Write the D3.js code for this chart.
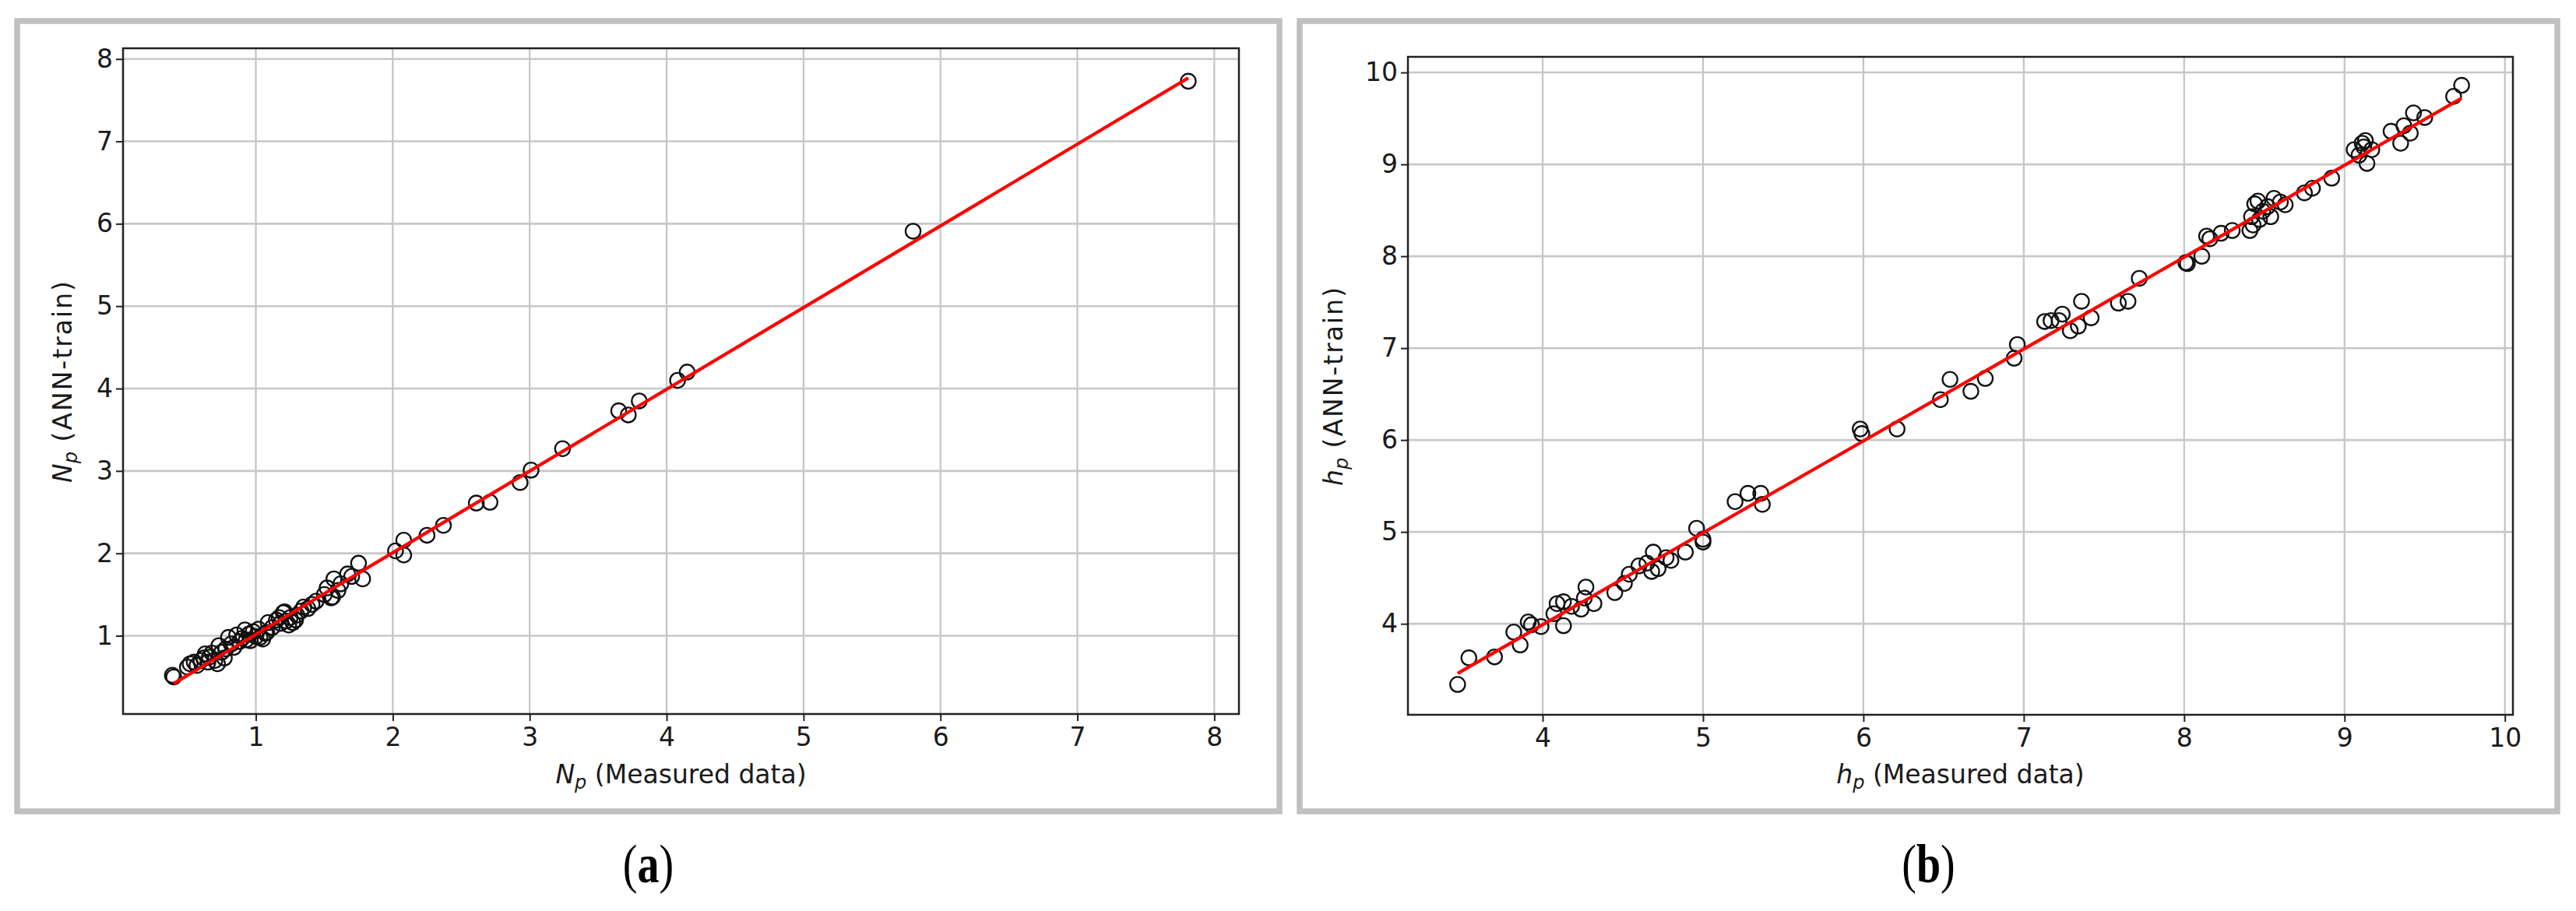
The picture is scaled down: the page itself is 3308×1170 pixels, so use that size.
<!DOCTYPE html>
<html>
<head>
<meta charset="utf-8">
<script src="https://cdn.jsdelivr.net/npm/d3@7"></script>
<style>
  html, body { margin: 0; padding: 0; background: #fff; }
  svg { display: block; }
  text { fill: #1a1a1a; }
</style>
</head>
<body>
<svg id="chart" width="3308" height="1170"></svg>
<script>
// ---------------- DATA ----------------
// Panel (a): Np measured vs ANN-train
const npMeasured = [
  0.39, 0.40, 0.50, 0.52, 0.55, 0.57, 0.60, 0.62, 0.63, 0.65, 0.66, 0.68, 0.70, 0.72,
  0.73, 0.75, 0.77, 0.78, 0.80, 0.82, 0.84, 0.86, 0.88, 0.90, 0.92, 0.93, 0.95, 0.96,
  0.98, 1.00, 1.02, 1.03, 1.05, 1.07, 1.08, 1.09, 1.12, 1.15, 1.17, 1.18, 1.20, 1.21,
  1.22, 1.24, 1.25, 1.27, 1.29, 1.30, 1.33, 1.35, 1.38, 1.41, 1.44, 1.50, 1.52, 1.55,
  1.56, 1.57, 1.60, 1.62, 1.67, 1.70, 1.75, 1.78, 2.02, 2.08, 2.08, 2.25, 2.37, 2.61,
  2.71, 2.93, 3.01, 3.24, 3.65, 3.72, 3.80, 4.08, 4.15, 5.80, 7.81
];
const npAnnTrain = [
  0.52, 0.50, 0.62, 0.66, 0.68, 0.64, 0.70, 0.73, 0.78, 0.68, 0.74, 0.79, 0.70, 0.66,
  0.88, 0.80, 0.73, 0.84, 0.98, 0.90, 0.86, 1.01, 0.93, 0.97, 1.07, 0.95, 1.02, 0.94,
  1.05, 0.99, 1.08, 0.98, 0.96, 1.03, 1.04, 1.16, 1.10, 1.19, 1.22, 1.15, 1.28, 1.29,
  1.18, 1.13, 1.22, 1.16, 1.19, 1.25, 1.30, 1.35, 1.33, 1.38, 1.42, 1.50, 1.58, 1.46,
  1.47, 1.69, 1.55, 1.63, 1.75, 1.72, 1.88, 1.69, 2.03, 2.16, 1.98, 2.22, 2.34, 2.61,
  2.62, 2.86, 3.01, 3.27, 3.73, 3.68, 3.85, 4.10, 4.20, 5.91, 7.73
];
const npFitX = [0.40, 7.81];
const npFitY = [0.42, 7.77];
const npTicksX = [1, 2, 3, 4, 5, 6, 7, 8];
const npTicksY = [1, 2, 3, 4, 5, 6, 7, 8];

// Panel (b): hp measured vs ANN-train
const hpMeasured = [
  3.47, 3.54, 3.70, 3.82, 3.86, 3.91, 3.93, 3.99, 4.07, 4.09, 4.13, 4.13, 4.18, 4.24,
  4.26, 4.27, 4.32, 4.45, 4.51, 4.54, 4.60, 4.65, 4.68, 4.69, 4.72, 4.77, 4.80, 4.89,
  4.96, 5.00, 5.00, 5.20, 5.28, 5.36, 5.37, 5.98, 5.99, 6.21, 6.48, 6.54, 6.67, 6.76,
  6.94, 6.96, 7.13, 7.17, 7.22, 7.24, 7.29, 7.34, 7.36, 7.42, 7.59, 7.65, 7.72, 8.01,
  8.02, 8.11, 8.14, 8.16, 8.23, 8.30, 8.41, 8.42, 8.43, 8.44, 8.46, 8.47, 8.49, 8.52,
  8.54, 8.56, 8.60, 8.63, 8.75, 8.80, 8.92, 9.06, 9.09, 9.11, 9.12, 9.13, 9.14, 9.17,
  9.29, 9.35, 9.37, 9.41, 9.43, 9.50, 9.68, 9.73
];
const hpAnnTrain = [
  3.34, 3.63, 3.64, 3.91, 3.77, 4.02, 3.99, 3.97, 4.11, 4.22, 4.24, 3.98, 4.19, 4.16,
  4.28, 4.40, 4.22, 4.34, 4.44, 4.54, 4.63, 4.66, 4.57, 4.78, 4.60, 4.72, 4.69, 4.78,
  5.04, 4.92, 4.89, 5.33, 5.42, 5.42, 5.30, 6.12, 6.07, 6.12, 6.44, 6.66, 6.53, 6.67,
  6.89, 7.04, 7.29, 7.30, 7.30, 7.37, 7.19, 7.24, 7.51, 7.33, 7.49, 7.51, 7.76, 7.93,
  7.92, 8.00, 8.22, 8.19, 8.25, 8.28, 8.28, 8.43, 8.34, 8.57, 8.60, 8.40, 8.49, 8.54,
  8.43, 8.63, 8.59, 8.56, 8.69, 8.74, 8.85, 9.16, 9.10, 9.23, 9.19, 9.26, 9.01, 9.16,
  9.36, 9.23, 9.42, 9.34, 9.56, 9.51, 9.74, 9.86
];
const hpFitX = [3.47, 9.73];
const hpFitY = [3.46, 9.72];
const hpTicksX = [4, 5, 6, 7, 8, 9, 10];
const hpTicksY = [4, 5, 6, 7, 8, 9, 10];

const captions = ["a", "b"];

// ---------------- DRAW ----------------
const SANS = '"DejaVu Sans", sans-serif';
const SERIF = '"Liberation Serif", "DejaVu Serif", serif';
const svg = d3.select("#chart");
svg.append("rect").attr("width", 3308).attr("height", 1170).attr("fill", "#fff");

function panel(cfg) {
  const g = svg.append("g");
  // outer frame
  g.append("rect")
    .attr("x", cfg.frame[0]).attr("y", cfg.frame[1])
    .attr("width", cfg.frame[2]).attr("height", cfg.frame[3])
    .attr("fill", "none").attr("stroke", "#c0c0c0").attr("stroke-width", 7.5);

  const x = d3.scaleLinear().domain(cfg.xDomain).range([cfg.left, cfg.right]);
  const y = d3.scaleLinear().domain(cfg.yDomain).range([cfg.bottom, cfg.top]);

  // grid
  g.append("g").selectAll("line").data(cfg.ticksX).join("line")
    .attr("x1", d => x(d)).attr("x2", d => x(d))
    .attr("y1", cfg.top).attr("y2", cfg.bottom)
    .attr("stroke", "#c4c4c4").attr("stroke-width", 2.2);
  g.append("g").selectAll("line").data(cfg.ticksY).join("line")
    .attr("y1", d => y(d)).attr("y2", d => y(d))
    .attr("x1", cfg.left).attr("x2", cfg.right)
    .attr("stroke", "#c8c8c8").attr("stroke-width", 2.6);

  // scatter
  const pts = cfg.xs.map((v, i) => [v, cfg.ys[i]]);
  g.append("g").selectAll("circle").data(pts).join("circle")
    .attr("cx", d => x(d[0])).attr("cy", d => y(d[1])).attr("r", 9.6)
    .attr("fill", "none").attr("stroke", "#111").attr("stroke-width", 2.3);

  // fit line
  const linePts = cfg.fitX.map((v, i) => [v, cfg.fitY[i]]);
  g.append("path").datum(linePts)
    .attr("d", d3.line().x(d => x(d[0])).y(d => y(d[1])))
    .attr("fill", "none").attr("stroke", "#ff0000").attr("stroke-width", 4.2);

  // axes
  const ax = g.append("g").attr("transform", `translate(0,${cfg.bottom})`)
    .call(d3.axisBottom(x).tickValues(cfg.ticksX).tickFormat(d3.format("d"))
      .tickSize(9).tickPadding(9));
  const ay = g.append("g").attr("transform", `translate(${cfg.left},0)`)
    .call(d3.axisLeft(y).tickValues(cfg.ticksY).tickFormat(d3.format("d"))
      .tickSize(9).tickPadding(4));
  [ax, ay].forEach(a => {
    a.select(".domain").remove();
    a.selectAll(".tick line").attr("stroke", "#222").attr("stroke-width", 2);
    a.selectAll(".tick text").attr("font-size", 33).attr("fill", "#1a1a1a")
      .style("font-family", SANS);
  });

  // spines
  g.append("rect").attr("x", cfg.left).attr("y", cfg.top)
    .attr("width", cfg.right - cfg.left).attr("height", cfg.bottom - cfg.top)
    .attr("fill", "none").attr("stroke", "#222").attr("stroke-width", 2.5);

  // x label
  const xl = g.append("text")
    .attr("x", (cfg.left + cfg.right) / 2).attr("y", 1006)
    .attr("text-anchor", "middle").attr("font-size", 33).style("font-family", SANS);
  xl.append("tspan").attr("font-style", "italic").text(cfg.sym);
  xl.append("tspan").attr("font-style", "italic").attr("font-size", 24).attr("dy", 7).text("p");
  xl.append("tspan").attr("dy", -7).text(" (Measured data)");

  // y label
  const yl = g.append("text")
    .attr("transform", `translate(${cfg.ylabX},${(cfg.top + cfg.bottom) / 2}) rotate(-90)`)
    .attr("text-anchor", "middle").attr("font-size", 33).attr("dy", "0.35em")
    .style("font-family", SANS);
  yl.append("tspan").attr("font-style", "italic").text(cfg.sym);
  yl.append("tspan").attr("font-style", "italic").attr("font-size", 24).attr("dy", 7).text("p");
  yl.append("tspan").attr("dy", -7).attr("letter-spacing", 2).text(" (ANN-train)");

  // caption
  const cx = cfg.frame[0] + cfg.frame[2] / 2;
  const cap = g.append("text")
    .attr("transform", `translate(${cx},1133) scale(1,1.25)`)
    .attr("text-anchor", "middle").attr("font-size", 56)
    .style("font-family", SERIF).style("fill", "#000");
  cap.append("tspan").text("(");
  cap.append("tspan").attr("font-weight", "bold").text(cfg.caption);
  cap.append("tspan").text(")");
}

panel({
  frame: [22, 27, 1621, 1015],
  left: 158, right: 1591, top: 62, bottom: 917,
  xDomain: [0.03, 8.18], yDomain: [0.05, 8.13],
  xs: npMeasured, ys: npAnnTrain, fitX: npFitX, fitY: npFitY,
  ticksX: npTicksX, ticksY: npTicksY, sym: "N", ylabX: 80, caption: captions[0]
});
panel({
  frame: [1669, 27, 1615, 1015],
  left: 1808, right: 3227, top: 73, bottom: 918,
  xDomain: [3.16, 10.05], yDomain: [3.01, 10.17],
  xs: hpMeasured, ys: hpAnnTrain, fitX: hpFitX, fitY: hpFitY,
  ticksX: hpTicksX, ticksY: hpTicksY, sym: "h", ylabX: 1712, caption: captions[1]
});
</script>
</body>
</html>
